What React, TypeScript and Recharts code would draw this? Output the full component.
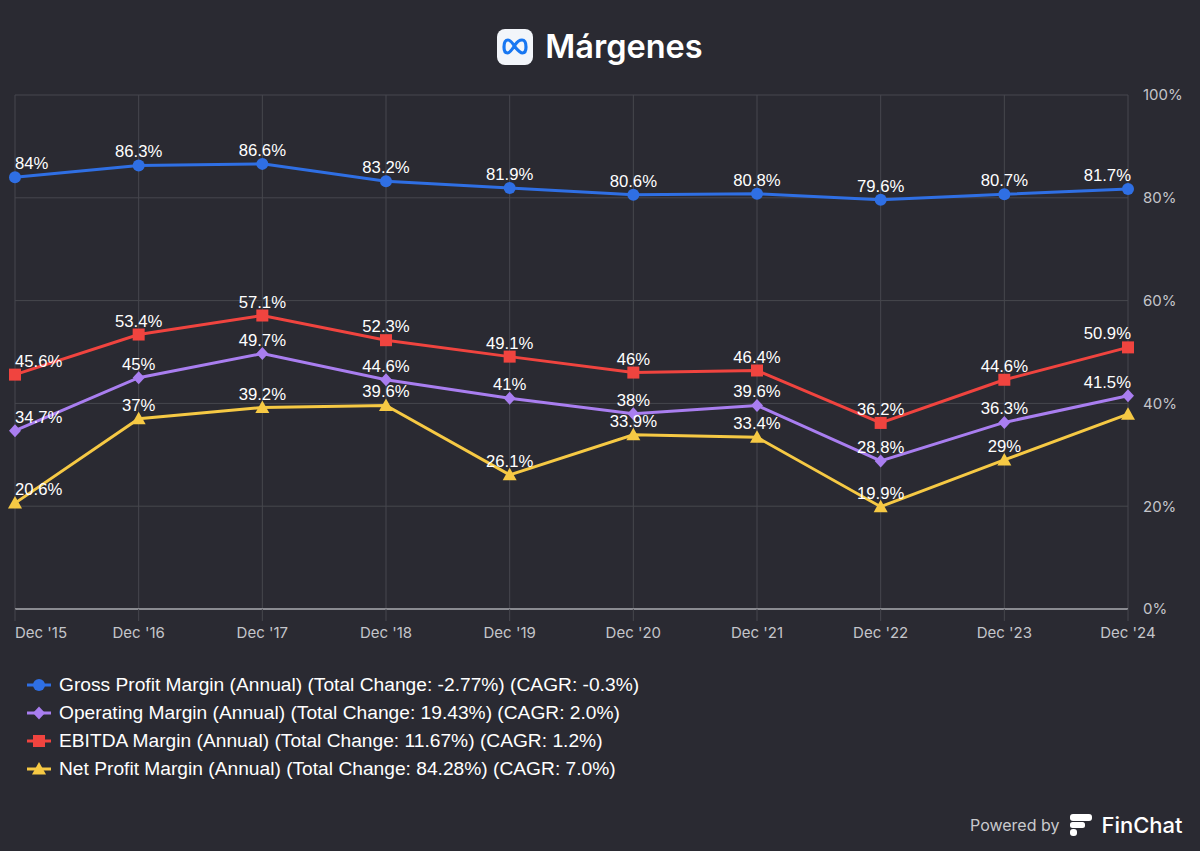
import React from "react";
import { LineChart, Line, XAxis, YAxis, CartesianGrid, LabelList } from "recharts";

const categories = ["Dec '15", "Dec '16", "Dec '17", "Dec '18", "Dec '19", "Dec '20", "Dec '21", "Dec '22", "Dec '23", "Dec '24"];
const grossMargin = [84, 86.3, 86.6, 83.2, 81.9, 80.6, 80.8, 79.6, 80.7, 81.7];
const operatingMargin = [34.7, 45, 49.7, 44.6, 41, 38, 39.6, 28.8, 36.3, 41.5];
const ebitdaMargin = [45.6, 53.4, 57.1, 52.3, 49.1, 46, 46.4, 36.2, 44.6, 50.9];
const netMargin = [20.6, 37, 39.2, 39.6, 26.1, 33.9, 33.4, 19.9, 29, 37.9];
const yTicks = [0, 20, 40, 60, 80, 100];
const hiddenLabels: Record<string, number[]> = { net: [9] };

const legendItems = [
  { key: "gross", label: "Gross Profit Margin (Annual) (Total Change: -2.77%) (CAGR: -0.3%)", color: "#2f6fe4", shape: "circle" },
  { key: "operating", label: "Operating Margin (Annual) (Total Change: 19.43%) (CAGR: 2.0%)", color: "#a97ef0", shape: "diamond" },
  { key: "ebitda", label: "EBITDA Margin (Annual) (Total Change: 11.67%) (CAGR: 1.2%)", color: "#f0443f", shape: "square" },
  { key: "net", label: "Net Profit Margin (Annual) (Total Change: 84.28%) (CAGR: 7.0%)", color: "#f6c944", shape: "triangle" },
];

const data = categories.map((name, i) => ({
  name,
  gross: grossMargin[i],
  operating: operatingMargin[i],
  ebitda: ebitdaMargin[i],
  net: netMargin[i],
}));

const BG = "#2a2a32";
const GRID = "#46474e";
const N = categories.length;

function Marker({ shape, cx, cy, color }: { shape: string; cx: number; cy: number; color: string }) {
  if (shape === "circle") return <circle cx={cx} cy={cy} r={6} fill={color} />;
  if (shape === "diamond") return <polygon points={`${cx},${cy - 6.5} ${cx + 6},${cy} ${cx},${cy + 6.5} ${cx - 6},${cy}`} fill={color} />;
  if (shape === "square") return <rect x={cx - 6} y={cy - 6} width={12} height={12} fill={color} />;
  return <polygon points={`${cx},${cy - 7} ${cx + 7},${cy + 5.5} ${cx - 7},${cy + 5.5}`} fill={color} />;
}

function makeDot(shape: string, color: string) {
  return (props: any) => {
    const { cx, cy, index } = props;
    if (cx == null || cy == null) return <g key={`e-${index}`} />;
    return (
      <g key={`d-${shape}-${index}`}>
        <Marker shape={shape} cx={cx} cy={cy} color={color} />
      </g>
    );
  };
}

function makeLabel(key: string) {
  return (props: any) => {
    const { x, y, value, index } = props;
    if ((hiddenLabels[key] || []).includes(index)) return null;
    const anchor = index === 0 ? "start" : index === N - 1 ? "end" : "middle";
    const px = index === N - 1 ? x + 3 : x;
    return (
      <text
        key={`l-${key}-${index}`}
        x={px}
        y={y - 8}
        textAnchor={anchor}
        fill="#ffffff"
        fontSize={16.7}
        fontFamily="'Liberation Sans', Arial, sans-serif"
      >
        {`${value}%`}
      </text>
    );
  };
}

const XTick = (props: any) => {
  const { x, y, payload, index } = props;
  const anchor = index === 0 ? "start" : "middle";
  return (
    <text x={x} y={y} dy={13} textAnchor={anchor} fill="#c4c5ca" fontSize={15} fontFamily="Inter, 'Noto Sans', sans-serif">
      {payload.value}
    </text>
  );
};

function MetaLogo() {
  return (
    <svg width={36} height={36} viewBox="0 0 36 36" style={{ display: "block" }}>
      <rect x={0} y={0} width={36} height={36} rx={8} fill="#f2f5fa" />
      <path
        d="M18 18 C15 13 13 11 11 11 C8.5 11 7 14 7 18 C7 22 8.5 24 10.5 24 C13 24 15.5 20 18 16 C20.5 12 22.5 11 25 11 C27.5 11 29 14 29 18 C29 22 27.5 24 25.5 24 C23 24 20.5 21 18 18 Z"
        fill="none"
        stroke="#1877f2"
        strokeWidth={3.2}
        strokeLinejoin="round"
      />
    </svg>
  );
}

function FinChatLogo() {
  return (
    <svg width={24} height={24} viewBox="0 0 24 24" style={{ display: "block" }}>
      <rect x={1} y={1} width={22} height={7} rx={3} fill="#ffffff" />
      <rect x={1} y={9} width={15} height={6} rx={2.5} fill="#ffffff" />
      <rect x={1} y={16} width={7} height={7} rx={3} fill="#ffffff" />
    </svg>
  );
}

function LegendIcon({ shape, color }: { shape: string; color: string }) {
  return (
    <svg width={26} height={16} style={{ display: "block" }}>
      <line x1={1} y1={8} x2={25} y2={8} stroke={color} strokeWidth={3} />
      <Marker shape={shape} cx={13} cy={8} color={color} />
    </svg>
  );
}

export default function App() {
  return (
    <div style={{ position: "relative", width: 1200, height: 851, background: BG, overflow: "hidden" }}>
      <style>{`body{margin:0;background:${BG};}`}</style>
      <div
        style={{
          position: "absolute",
          top: 29,
          left: 0,
          width: 1200,
          display: "flex",
          justifyContent: "center",
          alignItems: "center",
          gap: 12,
        }}
      >
        <MetaLogo />
        <span style={{ color: "#ffffff", fontFamily: "Inter, 'Noto Sans', sans-serif", fontSize: 32.5, fontWeight: 600, lineHeight: "36px" }}>
          Márgenes
        </span>
      </div>

      <div style={{ position: "absolute", top: 0, left: 0 }}>
        <LineChart width={1200} height={651} data={data} margin={{ top: 95, right: 0, left: 15, bottom: 12 }}>
          <CartesianGrid stroke={GRID} strokeWidth={1} />
          <XAxis
            dataKey="name"
            interval={0}
            height={30}
            tick={<XTick />}
            tickSize={12}
            tickMargin={4}
            tickLine={{ stroke: GRID }}
            axisLine={{ stroke: "#8a8b91", strokeWidth: 2 }}
          />
          <YAxis
            orientation="right"
            width={72}
            domain={[0, 100]}
            ticks={yTicks}
            tickFormatter={(v: number) => `${v}%`}
            tickLine={false}
            axisLine={false}
            tickSize={0}
            tickMargin={15}
            tick={{ fill: "#c4c5ca", fontSize: 15, fontFamily: "Inter, 'Noto Sans', sans-serif", textAnchor: "start" }}
          />
          {legendItems.map((s) => (
            <Line
              key={s.key}
              dataKey={s.key}
              stroke={s.color}
              strokeWidth={3}
              type="linear"
              isAnimationActive={false}
              dot={makeDot(s.shape, s.color)}
              activeDot={false}
            >
              <LabelList dataKey={s.key} content={makeLabel(s.key)} />
            </Line>
          ))}
        </LineChart>
      </div>

      <div style={{ position: "absolute", top: 671, left: 26 }}>
        {legendItems.map((s) => (
          <div key={s.key} style={{ display: "flex", alignItems: "center", height: 28 }}>
            <LegendIcon shape={s.shape} color={s.color} />
            <span
              style={{
                marginLeft: 7,
                color: "#ffffff",
                fontFamily: "'Liberation Sans', Arial, sans-serif",
                fontSize: 19.2,
              }}
            >
              {s.label}
            </span>
          </div>
        ))}
      </div>

      <div style={{ position: "absolute", top: 812, left: 970, display: "flex", alignItems: "center" }}>
        <span style={{ color: "#c8c9cd", fontFamily: "Inter, 'Noto Sans', sans-serif", fontSize: 16 }}>Powered by</span>
        <div style={{ marginLeft: 10 }}>
          <FinChatLogo />
        </div>
        <span style={{ marginLeft: 8, color: "#ffffff", fontFamily: "Inter, 'Noto Sans', sans-serif", fontSize: 22, fontWeight: 500 }}>
          FinChat
        </span>
      </div>
    </div>
  );
}
